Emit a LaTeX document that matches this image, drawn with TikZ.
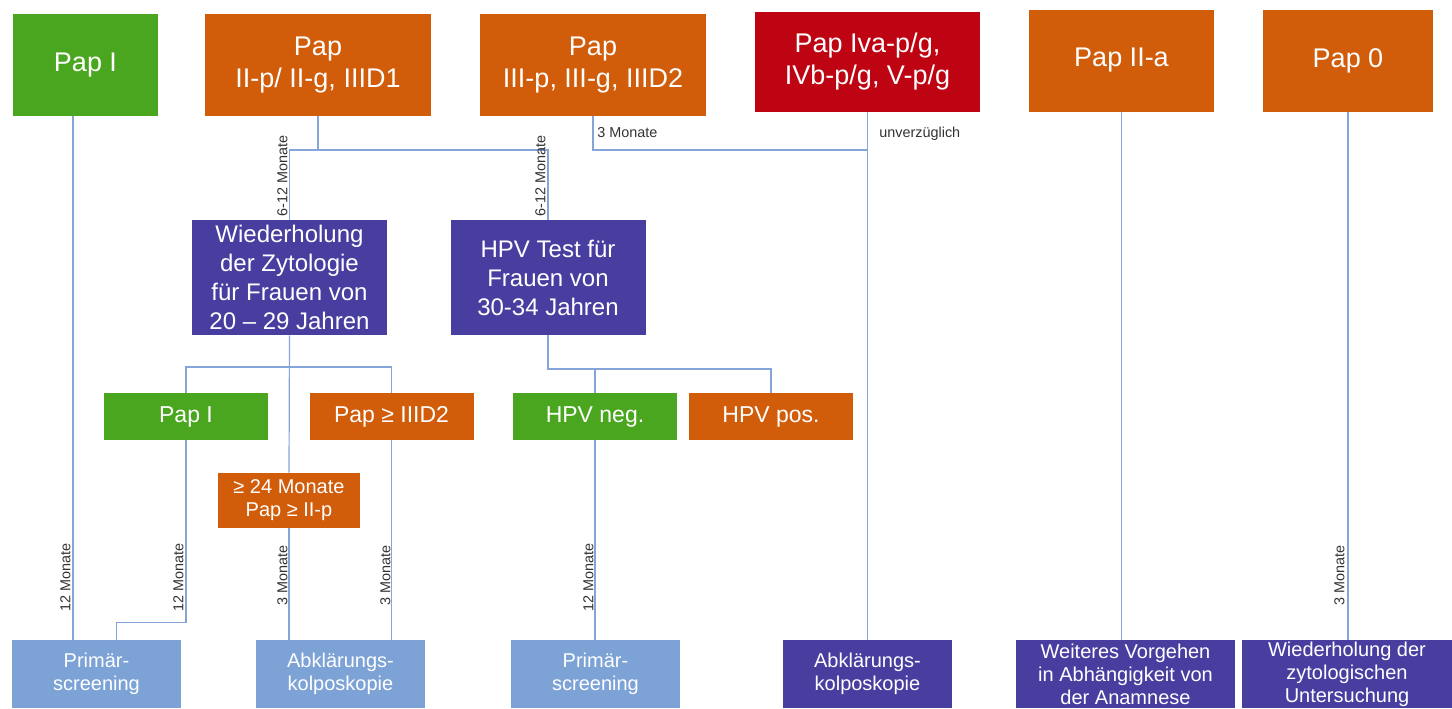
\documentclass[tikz,border=0pt]{standalone}
\usepackage{fontspec}
\setmainfont{Liberation Sans}

\definecolor{papgreen}{RGB}{74,166,30}
\definecolor{paporange}{RGB}{209,92,10}
\definecolor{papred}{RGB}{190,4,18}
\definecolor{pappurple}{RGB}{72,62,160}
\definecolor{papblue}{RGB}{124,162,214}
\definecolor{linkblue}{RGB}{132,164,218}

\begin{document}
\begin{tikzpicture}[x=0.5pt, y=-0.5pt,
		box/.style={text=white, inner sep=0pt, align=center},
		topbox/.style={box, minimum height=51pt, font=\fontsize{13.5}{16}\selectfont},
		midbox/.style={box, minimum width=97.5pt, minimum height=57.5pt, fill=pappurple, font=\fontsize{12}{14.5}\selectfont},
		resbox/.style={box, minimum width=82pt, minimum height=23.5pt, font=\fontsize{11.5}{14}\selectfont},
		endbox/.style={box, minimum width=84.5pt, minimum height=34pt, font=\fontsize{10}{11.5}\selectfont},
		link/.style={linkblue, line width=0.6pt},
		lbl/.style={text=black!80, inner sep=1pt, font=\fontsize{7.2}{8}\selectfont},
		vlbl/.style={lbl, rotate=90, anchor=south}]
	\useasboundingbox (0,0) rectangle (1452,708);

	% top row
	\node[topbox, fill=papgreen, minimum width=72.5pt] (papI) at (85.5,65) {Pap I};
	\node[topbox, fill=paporange, minimum width=113pt] (papII) at (318,65) {Pap\\II-p/ II-g, IIID1};
	\node[topbox, fill=paporange, minimum width=113pt] (papIII) at (593,65) {Pap\\III-p, III-g, IIID2};
	\node[topbox, fill=papred, minimum width=112.5pt, minimum height=50pt] (papIV) at (867.5,62) {Pap Iva-p/g,\\IVb-p/g, V-p/g};
	\node[topbox, fill=paporange, minimum width=92.5pt] (papIIa) at (1121.5,60.5) {Pap II-a};
	\node[topbox, fill=paporange, minimum width=85pt] (pap0) at (1348,60.5) {Pap 0};

	% second row
	\node[midbox] (wdh) at (289.5,277.5) {Wiederholung\\der Zytologie\\für Frauen von\\20 – 29 Jahren};
	\node[midbox] (hpv) at (548,277.5) {HPV Test für\\Frauen von\\30-34 Jahren};

	% results
	\node[resbox, fill=papgreen] (papIb) at (186,416.5) {Pap I};
	\node[resbox, fill=paporange] (papD2) at (391.5,416.5) {Pap ≥ IIID2};
	\node[box, fill=paporange, minimum width=71pt, minimum height=27.5pt, font=\fontsize{10}{11.5}\selectfont] (mon24) at (289,500.5) {≥ 24 Monate\\Pap ≥ II-p};
	\node[resbox, fill=papgreen] (hpvneg) at (595,416.5) {HPV neg.};
	\node[resbox, fill=paporange] (hpvpos) at (771,416.5) {HPV pos.};

	% bottom row
	\node[endbox, fill=papblue] (scr1) at (96.5,674) {Primär-\\screening};
	\node[endbox, fill=papblue] (abk1) at (340.5,674) {Abklärungs-\\kolposkopie};
	\node[endbox, fill=papblue] (scr2) at (595.5,674) {Primär-\\screening};
	\node[endbox, fill=pappurple] (abk2) at (867.5,674) {Abklärungs-\\kolposkopie};
	\node[endbox, fill=pappurple, minimum width=109.5pt] (weit) at (1125.5,674) {Weiteres Vorgehen\\in Abhängigkeit von\\der Anamnese};
	\node[endbox, fill=pappurple, minimum width=105pt] (wdhz) at (1347,674) {Wiederholung der\\zytologischen\\Untersuchung};

	\coordinate (j1) at (318,150);
	\coordinate (j2) at (290,367);
	\coordinate (j3) at (595,369);

	% connectors
	\draw[link] ([xshift=-6.25pt]papI.south) -- ([xshift=-6.25pt]papI.south |- scr1.north);
	\draw[link] (papII.south) -- (j1);
	\draw[link] (wdh.north) |- (j1) -| (hpv.north);
	\draw[link] (papIII.south) |- (papIV.south |- j1);
	\draw[link] (papIV.south) -- (papIV.south |- abk2.north);
	\draw[link] (papIIa.south) -- (papIIa.south |- weit.north);
	\draw[link] (pap0.south) -- (pap0.south |- wdhz.north);
	\draw[link] (wdh.south) -- (mon24.north);
	\draw[link] (mon24.south) -- (mon24.south |- abk1.north);
	\draw[link] (papIb.north) |- (j2) -| (papD2.north);
	\draw[link] (papIb.south) -- ++(0,-91pt) -| ([xshift=10pt]scr1.north);
	\draw[link] (papD2.south) -- (papD2.south |- abk1.north);
	\draw[link] (hpv.south) |- (j3) -| (hpvpos.north);
	\draw[link] (j3) -- (hpvneg.north);
	\draw[link] (hpvneg.south) -- (hpvneg.south |- scr2.north);

	% labels
	\node[vlbl] (l1) at (290,176) {6-12 Monate};
	\node[vlbl] (l2) at (548,176) {6-12 Monate};
	\node[lbl, anchor=west] (l3) at (595,133) {3 Monate};
	\node[lbl, anchor=west] (l4) at (877,134) {unverzüglich};
	\node[vlbl] (l5) at (73,577) {12 Monate};
	\node[vlbl] (l6) at (186,577) {12 Monate};
	\node[vlbl] (l7) at (290,575) {3 Monate};
	\node[vlbl] (l8) at (393,575) {3 Monate};
	\node[vlbl] (l9) at (596,577) {12 Monate};
	\node[vlbl] (l10) at (1347,575) {3 Monate};
\end{tikzpicture}
\end{document}
